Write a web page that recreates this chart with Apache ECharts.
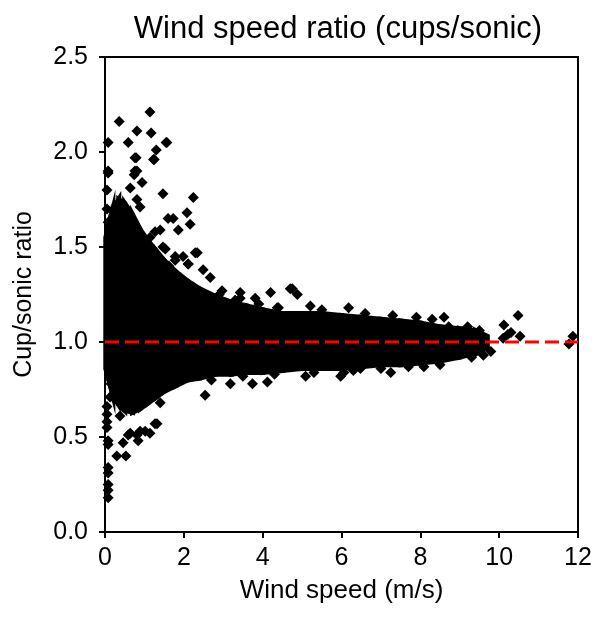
<!DOCTYPE html>
<html>
<head>
<meta charset="utf-8">
<script src="https://cdn.jsdelivr.net/npm/echarts@6/dist/echarts.min.js"></script>
<style>html,body{margin:0;padding:0;background:#fff}#c{width:603px;height:618px}</style>
</head>
<body>
<div id="c"></div>
<script>
// Dense core of the scatter cloud: lower/upper envelope
const bandSpeed = [0.02, 0.1, 0.2, 0.35, 0.5, 0.7, 0.9, 1.1, 1.3, 1.5, 1.8, 2.1, 2.4, 2.8, 3.2, 3.6, 4.0, 4.5, 5.0, 5.5, 6.0, 6.5, 7.0, 7.5, 8.0, 8.5, 9.0, 9.4, 9.7];
const bandUpper = [1.55, 1.62, 1.70, 1.75, 1.73, 1.67, 1.59, 1.53, 1.48, 1.43, 1.37, 1.32, 1.28, 1.24, 1.21, 1.19, 1.17, 1.15, 1.15, 1.15, 1.14, 1.13, 1.12, 1.11, 1.10, 1.08, 1.07, 1.06, 1.03];
const bandLower = [0.86, 0.80, 0.72, 0.67, 0.64, 0.63, 0.65, 0.68, 0.71, 0.74, 0.77, 0.80, 0.81, 0.83, 0.83, 0.84, 0.84, 0.85, 0.86, 0.86, 0.86, 0.87, 0.88, 0.88, 0.89, 0.90, 0.92, 0.94, 0.97];

// Individual points: wind speed (m/s) and cup/sonic ratio
const pointSpeed = [
  1.14, 0.36, 0.81, 1.17, 0.08, 0.59, 1.55, 1.30, 0.79, 1.25, 0.08, 0.81, 0.74, 0.94, 0.64, 1.47, 2.24, 0.81, 0.89, 2.08,
  1.60, 1.73, 2.16, 0.08, 1.86, 1.40, 1.27, 1.14, 1.07, 1.47, 1.53, 1.98, 2.29, 1.78, 2.11, 2.49, 2.67, 2.24, 2.97, 3.43,
  3.43, 3.81, 4.20, 4.70, 4.37, 4.75, 4.88, 5.21, 6.18, 8.60, 8.72, 8.95, 10.12, 10.48, 10.22, 10.10, 10.30, 10.53, 9.79, 11.87,
  11.77, 9.53, 9.36, 0.20, 0.13, 3.18, 3.74, 4.12, 2.54, 1.32, 0.13, 0.30, 0.38, 0.81, 1.40, 1.27, 1.02, 1.14, 0.81, 0.59,
  0.84, 0.46, 0.30, 0.53, 0.05, 0.08, 0.08, 0.08, 0.08, 0.08, 0.08, 0.08, 5.09, 5.98, 6.48, 7.25, 8.09, 6.06, 0.64, 0.89,
  0.76, 1.23, 0.08, 0.76, 2.34, 1.78, 2.11, 1.62, 1.57,
  // ragged edge of the dense core
  2.90, 3.30, 3.90, 4.40, 5.50, 6.60, 7.30, 7.90, 8.30, 9.20, 9.50, 2.70, 3.50, 4.30, 5.30, 6.30, 7.00, 7.70, 8.50, 9.30,
  9.60, 0.05, 0.05, 0.05, 0.05, 0.05, 0.15, 0.25
];
const pointRatio = [
  2.21, 2.16, 2.11, 2.10, 2.05, 2.05, 2.05, 2.01, 1.97, 1.96, 1.89, 1.90, 1.88, 1.84, 1.81, 1.78, 1.76, 1.75, 1.71, 1.68,
  1.65, 1.65, 1.62, 1.63, 1.59, 1.59, 1.58, 1.55, 1.52, 1.50, 1.49, 1.45, 1.47, 1.43, 1.41, 1.38, 1.34, 1.29, 1.27, 1.26,
  1.23, 1.23, 1.26, 1.28, 1.18, 1.28, 1.25, 1.19, 1.18, 1.13, 1.08, 1.06, 1.09, 1.14, 1.04, 1.02, 1.05, 1.03, 0.95, 1.03,
  0.99, 1.02, 0.94, 0.92, 0.87, 0.78, 0.78, 0.79, 0.72, 0.57, 0.71, 0.71, 0.61, 0.66, 0.68, 0.57, 0.53, 0.52, 0.51, 0.51,
  0.48, 0.47, 0.40, 0.40, 0.55, 0.48, 0.46, 0.34, 0.31, 0.25, 0.22, 0.18, 0.82, 0.82, 0.86, 0.84, 0.87, 0.84, 0.52, 0.53,
  1.97, 1.96, 1.90, 1.90, 1.47, 1.45, 1.41, 1.40, 2.05,
  1.25, 1.22, 1.20, 1.18, 1.17, 1.15, 1.14, 1.13, 1.12, 1.08, 1.06, 0.80, 0.82, 0.83, 0.84, 0.85, 0.86, 0.87, 0.88, 0.92,
  0.93, 1.70, 1.80, 0.66, 0.62, 0.58, 0.78, 0.70
];

const xTicks = {min: 0, max: 12, interval: 2};
const yTicks = {min: 0, max: 2.5, interval: 0.5};
const refRatio = 1.0;

const chart = echarts.init(document.getElementById('c'), null, {renderer: 'canvas'});
const FONT = 'Liberation Sans, Arial, sans-serif';
const bandData = bandSpeed.map((v, i) => [v, bandLower[i], bandUpper[i]]);
const pts = pointSpeed.map((v, i) => [v, pointRatio[i]]);

chart.setOption({
  animation: false,
  backgroundColor: '#fff',
  title: {
    text: 'Wind speed ratio (cups/sonic)',
    left: 333, top: 9, textAlign: 'center',
    textStyle: {fontFamily: FONT, fontSize: 31, fontWeight: 'normal', color: '#000'}
  },
  grid: {left: 105, right: 25, top: 57, bottom: 86, show: true, borderColor: '#000', borderWidth: 2, containLabel: false},
  xAxis: {
    type: 'value', min: xTicks.min, max: xTicks.max, interval: xTicks.interval,
    name: 'Wind speed (m/s)', nameLocation: 'middle', nameGap: 46,
    nameTextStyle: {fontFamily: FONT, fontSize: 26, color: '#000'},
    axisLine: {show: true, onZero: false, lineStyle: {color: '#000', width: 2}},
    axisTick: {show: true, length: 6, lineStyle: {color: '#000', width: 2}},
    axisLabel: {fontFamily: FONT, fontSize: 25, color: '#000', margin: 14},
    splitLine: {show: false}
  },
  yAxis: {
    type: 'value', min: yTicks.min, max: yTicks.max, interval: yTicks.interval,
    name: 'Cup/sonic ratio', nameLocation: 'middle', nameGap: 68,
    nameTextStyle: {fontFamily: FONT, fontSize: 25, color: '#000'},
    axisLine: {show: true, onZero: false, lineStyle: {color: '#000', width: 2}},
    axisTick: {show: true, length: 6, lineStyle: {color: '#000', width: 2}},
    axisLabel: {fontFamily: FONT, fontSize: 25, color: '#000', margin: 17, formatter: v => v.toFixed(1)},
    splitLine: {show: false}
  },
  series: [
    {
      type: 'custom',
      data: bandData,
      z: 2,
      renderItem: function (params, api) {
        const i = params.dataIndex;
        if (i >= bandData.length - 1) return null;
        const a = bandData[i], b = bandData[i + 1];
        const p = [api.coord([a[0], a[1]]), api.coord([a[0], a[2]]), api.coord([b[0], b[2]]), api.coord([b[0], b[1]])];
        return {type: 'polygon', shape: {points: p}, style: {fill: '#000', stroke: '#000', lineWidth: 5}};
      }
    },
    {
      type: 'scatter',
      data: pts,
      symbol: 'diamond',
      symbolSize: 11,
      itemStyle: {color: '#000', opacity: 1},
      z: 3
    },
    {
      type: 'line',
      data: [[xTicks.min, refRatio], [xTicks.max, refRatio]],
      symbol: 'none',
      lineStyle: {color: '#ff0000', width: 3, type: [14, 6]},
      z: 5
    }
  ]
});
</script>
</body>
</html>
